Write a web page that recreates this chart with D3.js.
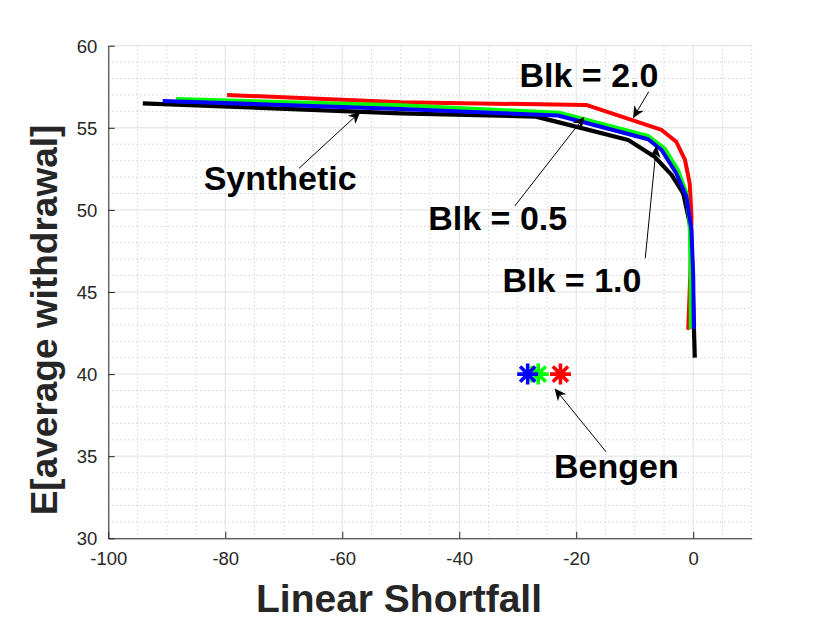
<!DOCTYPE html>
<html>
<head>
<meta charset="utf-8">
<script src="https://cdn.jsdelivr.net/npm/d3@7"></script>
<style>
  body { margin: 0; background: #fff; }
  svg { display: block; }
</style>
</head>
<body>
<div id="chart"></div>
<script>
// frontier curves: [linear shortfall, E[average withdrawal]]
var synthetic = [[-94.1,56.49],[-50,55.88],[-26.9,55.68],[-22.6,55.3],[-11.1,54.26],[-6.6,53.24],[-3.7,52.13],[-1.7,51.0],[-0.6,49.2],[-0.3,48.0],[0.27,41.0]];
var blk20 = [[-79.7,57.0],[-50,56.55],[-18.3,56.39],[-5.4,54.87],[-2.9,54.15],[-1.4,53.04],[-0.6,51.62],[-0.3,49.6],[-0.45,46.5],[-0.85,42.7]];
var blk05 = [[-88.4,56.75],[-50,56.37],[-22.9,55.92],[-7.7,54.5],[-4.9,53.75],[-2.6,52.43],[-1.15,51.0],[-0.6,49.2],[-0.45,46.0],[-0.4,42.75]];
var blk10 = [[-90.7,56.63],[-50,56.15],[-23.1,55.75],[-7.7,54.3],[-5.4,53.65],[-2.9,52.23],[-1.15,50.8],[-0.3,48.78],[0.0,46.0],[0.1,42.75]];

// Bengen points
var bengen = [
  {x: -22.7, y: 40, c: "#ff0000"},
  {x: -26.5, y: 40, c: "#00ff00"},
  {x: -28.3, y: 40, c: "#0000ff"}
];

var xTicks = [-100, -80, -60, -40, -20, 0];
var yTicks = [30, 35, 40, 45, 50, 55, 60];

// annotations: text anchor (left, baseline) and arrow tail -> tip, in data units
var labels = [
  {t: "Blk = 2.0", x: -29.7, y: 57.5, from: [-7.6, 57.2], to: [-10.3, 55.58]},
  {t: "Synthetic", x: -83.7, y: 51.2, from: [-67.4, 52.53], to: [-56.9, 55.98]},
  {t: "Blk = 0.5", x: -45.3, y: 48.78, from: [-30.5, 50.24], to: [-18.6, 55.68]},
  {t: "Blk = 1.0", x: -32.6, y: 45.02, from: [-8.2, 47.05], to: [-6.3, 53.9]},
  {t: "Bengen", x: -23.8, y: 33.65, from: [-14.9, 35.27], to: [-23.7, 39.13]}
];

var W = 830, H = 623;
var margin = {left: 108.3, right: 78.3, top: 45.7, bottom: 84.7};
var width = W - margin.left - margin.right,
    height = H - margin.top - margin.bottom;
var font = "'Liberation Sans', Arial, sans-serif";

var svg = d3.select("#chart").append("svg")
    .attr("width", W).attr("height", H);

var x = d3.scaleLinear().domain([-100, 10]).range([0, width]);
var y = d3.scaleLinear().domain([30, 60]).range([height, 0]);

var g = svg.append("g").attr("transform", "translate(" + margin.left + "," + margin.top + ")");

// minor grid
var xMinor = d3.range(-95, 11, 5).filter(v => xTicks.indexOf(v) < 0);
var yMinor = d3.range(31, 60, 1).filter(v => yTicks.indexOf(v) < 0);
g.append("g").selectAll("line").data(xMinor).enter().append("line")
    .attr("x1", d => x(d)).attr("x2", d => x(d))
    .attr("y1", 0).attr("y2", height)
    .attr("stroke", "#bfbfbf").attr("stroke-width", 1).attr("stroke-dasharray", "1,3");
g.append("g").selectAll("line").data(yMinor).enter().append("line")
    .attr("y1", d => y(d)).attr("y2", d => y(d))
    .attr("x1", 0).attr("x2", width)
    .attr("stroke", "#bfbfbf").attr("stroke-width", 1).attr("stroke-dasharray", "1,3");

// major grid
g.append("g").selectAll("line").data(xTicks).enter().append("line")
    .attr("x1", d => x(d)).attr("x2", d => x(d))
    .attr("y1", 0).attr("y2", height)
    .attr("stroke", "#e2e2e2").attr("stroke-width", 1);
g.append("g").selectAll("line").data(yTicks).enter().append("line")
    .attr("y1", d => y(d)).attr("y2", d => y(d))
    .attr("x1", 0).attr("x2", width)
    .attr("stroke", "#e2e2e2").attr("stroke-width", 1);

// axes
var xAxis = d3.axisBottom(x).tickValues(xTicks).tickFormat(d => String(d))
    .tickSizeInner(-6.5).tickSizeOuter(0).tickPadding(14);
var yAxis = d3.axisLeft(y).tickValues(yTicks).tickFormat(d => String(d))
    .tickSizeInner(-6.5).tickSizeOuter(0).tickPadding(11);

var gx = g.append("g").attr("transform", "translate(0," + height + ")").call(xAxis);
var gy = g.append("g").call(yAxis);
[gx, gy].forEach(function(a) {
    a.select(".domain").attr("stroke", "#262626").attr("stroke-width", 1);
    a.selectAll(".tick line").attr("stroke", "#262626");
    a.selectAll(".tick text").attr("fill", "#262626")
        .style("font-family", font).style("font-size", "18.5px");
});
gy.selectAll(".tick text").attr("dy", "0.36em");

// curves
var line = d3.line().x(d => x(d[0])).y(d => y(d[1]));
var series = [
    {d: synthetic, c: "#000000", w: 4.2},
    {d: blk20, c: "#ff0000", w: 4},
    {d: blk05, c: "#00ff00", w: 4},
    {d: blk10, c: "#0000ff", w: 4}
];
g.append("g").selectAll("path").data(series).enter().append("path")
    .attr("d", s => line(s.d))
    .attr("fill", "none")
    .attr("stroke", s => s.c)
    .attr("stroke-width", s => s.w)
    .attr("stroke-linejoin", "round")
    .attr("stroke-linecap", "butt");

// star markers (MATLAB '*')
function star(r) {
    var k = r * 0.72;
    return "M" + (-r) + ",0L" + r + ",0M0," + (-r) + "L0," + r +
        "M" + (-k) + "," + (-k) + "L" + k + "," + k +
        "M" + (-k) + "," + k + "L" + k + "," + (-k);
}
g.append("g").selectAll("path").data(bengen).enter().append("path")
    .attr("transform", d => "translate(" + x(d.x) + "," + y(d.y) + ")")
    .attr("d", star(10.5))
    .attr("fill", "none")
    .attr("stroke", d => d.c)
    .attr("stroke-width", 3.6);

// annotations
var ann = svg.append("g").attr("transform", "translate(" + margin.left + "," + margin.top + ")");
labels.forEach(function(l) {
    var x1 = x(l.from[0]), y1 = y(l.from[1]), x2 = x(l.to[0]), y2 = y(l.to[1]);
    var dx = x2 - x1, dy = y2 - y1, len = Math.sqrt(dx * dx + dy * dy);
    var ux = dx / len, uy = dy / len, px = -uy, py = ux;
    var hl = 12, hw = 5.5, back = 3.5;
    ann.append("line")
        .attr("x1", x1).attr("y1", y1)
        .attr("x2", x2 - ux * (hl - back)).attr("y2", y2 - uy * (hl - back))
        .attr("stroke", "#000").attr("stroke-width", 1);
    var bx = x2 - ux * hl, by = y2 - uy * hl;
    var nx = x2 - ux * (hl - back), ny = y2 - uy * (hl - back);
    ann.append("polygon")
        .attr("points", [[x2, y2], [bx + px * hw, by + py * hw], [nx, ny], [bx - px * hw, by - py * hw]].map(p => p.join(",")).join(" "))
        .attr("fill", "#000");
    ann.append("text")
        .attr("x", x(l.x)).attr("y", y(l.y))
        .style("font-family", font)
        .style("font-size", "34px").style("font-weight", "bold")
        .attr("fill", "#000")
        .text(l.t);
});

// axis labels
svg.append("text")
    .attr("x", 399).attr("y", 611.7)
    .attr("text-anchor", "middle")
    .style("font-family", font)
    .style("font-size", "39px").style("font-weight", "bold")
    .attr("fill", "#262626")
    .text("Linear Shortfall");

svg.append("text")
    .attr("transform", "translate(57,320) rotate(-90)")
    .attr("text-anchor", "middle")
    .style("font-family", font)
    .style("font-size", "37px").style("font-weight", "bold")
    .attr("fill", "#262626")
    .text("E[average withdrawal]");
</script>
</body>
</html>
